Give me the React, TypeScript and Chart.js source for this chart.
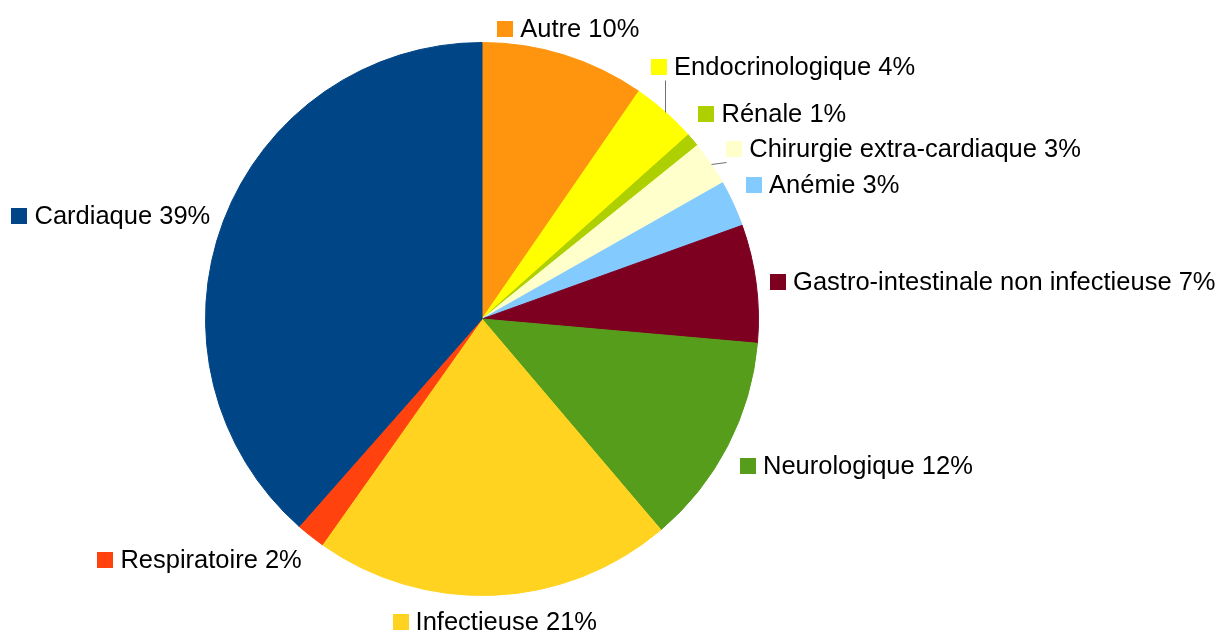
import React, { useEffect, useRef } from 'react';
import { Chart, registerables } from 'chart.js';

Chart.register(...registerables);

// Categories, clockwise from 12 o'clock
const categories = [
  'Autre',
  'Endocrinologique',
  'Rénale',
  'Chirurgie extra-cardiaque',
  'Anémie',
  'Gastro-intestinale non infectieuse',
  'Neurologique',
  'Infectieuse',
  'Respiratoire',
  'Cardiaque',
];

// Share of each category (%)
const values = [9.6, 3.8, 0.8, 2.6, 2.7, 6.9, 12.4, 21.0, 1.7, 38.5];

const colors = [
  '#ff950e',
  '#ffff00',
  '#aecf00',
  '#ffffcc',
  '#83caff',
  '#7e0021',
  '#579d1c',
  '#ffd320',
  '#ff420e',
  '#004586',
];

// Manual displacement of labels moved to avoid overlaps (px), and leader line flags
const labelShift: [number, number][] = [
  [0, 0],
  [-23, -21],
  [-5, -4],
  [4, 6],
  [0, 0],
  [0, 0],
  [0, 0],
  [0, 0],
  [0, 0],
  [0, 0],
];
const leaderLines = [false, true, false, true, false, false, false, false, false, false];

const FONT = '25.5px "Liberation Sans", Arial, sans-serif';
const SQ = 16;
const GAP = 7;
const BOX_H = 26;
const LABEL_DIST = 14;

const outsideLabels = {
  id: 'outsideLabels',
  afterDatasetsDraw(chart: any) {
    const ctx: CanvasRenderingContext2D = chart.ctx;
    const meta = chart.getDatasetMeta(0);
    const total = values.reduce((a, b) => a + b, 0);
    ctx.save();
    ctx.font = FONT;
    meta.data.forEach((arc: any, i: number) => {
      const { x, y, startAngle, endAngle, outerRadius } = arc.getProps(
        ['x', 'y', 'startAngle', 'endAngle', 'outerRadius'],
        true
      );
      const mid = (startAngle + endAngle) / 2;
      let deg = (-mid * 180) / Math.PI;
      deg = ((deg % 360) + 360) % 360;
      const r = outerRadius + LABEL_DIST;
      const ax = x + r * Math.cos(mid);
      const ay = y + r * Math.sin(mid);
      const text = `${categories[i]} ${Math.round((values[i] / total) * 100)}%`;
      const w = SQ + GAP + ctx.measureText(text).width;
      const h = BOX_H;
      let left = ax;
      let top = ay - h / 2;
      if (deg <= 22.5) {
        left = ax; top = ay - h / 2;
      } else if (deg < 67.5) {
        left = ax; top = ay - h;
      } else if (deg < 112.5) {
        left = ax - w / 2; top = ay - h;
      } else if (deg <= 157.5) {
        left = ax - w; top = ay - h;
      } else if (deg <= 202.5) {
        left = ax - w; top = ay - h / 2;
      } else if (deg < 247.5) {
        left = ax - w; top = ay;
      } else if (deg < 292.5) {
        left = ax - w / 2; top = ay;
      } else if (deg < 337.5) {
        left = ax; top = ay;
      } else {
        left = ax; top = ay - h / 2;
      }
      left += labelShift[i][0];
      top += labelShift[i][1];

      if (leaderLines[i]) {
        const px = x + outerRadius * Math.cos(mid);
        const py = y + outerRadius * Math.sin(mid);
        const qx = Math.min(Math.max(px, left), left + w);
        const qy = Math.min(Math.max(py, top), top + h);
        ctx.strokeStyle = '#707070';
        ctx.lineWidth = 1;
        ctx.beginPath();
        ctx.moveTo(Math.round(px) + 0.5, Math.round(py) + 0.5);
        ctx.lineTo(Math.round(qx) + 0.5, Math.round(qy) + 0.5);
        ctx.stroke();
      }

      ctx.fillStyle = colors[i];
      ctx.fillRect(Math.round(left), Math.round(top + (h - SQ) / 2), SQ, SQ);
      ctx.fillStyle = '#000000';
      ctx.textAlign = 'left';
      ctx.textBaseline = 'middle';
      ctx.fillText(text, left + SQ + GAP, top + h / 2 + 1);
    });
    ctx.restore();
  },
};

export default function App() {
  const ref = useRef<HTMLCanvasElement>(null);
  useEffect(() => {
    document.body.style.margin = '0';
    const chart = new Chart(ref.current as HTMLCanvasElement, {
      type: 'pie',
      data: {
        labels: categories,
        datasets: [
          {
            data: values,
            backgroundColor: colors,
            borderColor: colors,
            borderWidth: 1,
          },
        ],
      },
      options: {
        responsive: false,
        animation: false,
        layout: { padding: { left: 205, right: 465, top: 42, bottom: 39 } },
        plugins: {
          legend: { display: false },
          tooltip: { enabled: false },
        },
      },
      plugins: [outsideLabels],
    } as any);
    return () => chart.destroy();
  }, []);
  return (
    <canvas
      ref={ref}
      width={1224}
      height={635}
      style={{ display: 'block', width: 1224, height: 635 }}
    />
  );
}
